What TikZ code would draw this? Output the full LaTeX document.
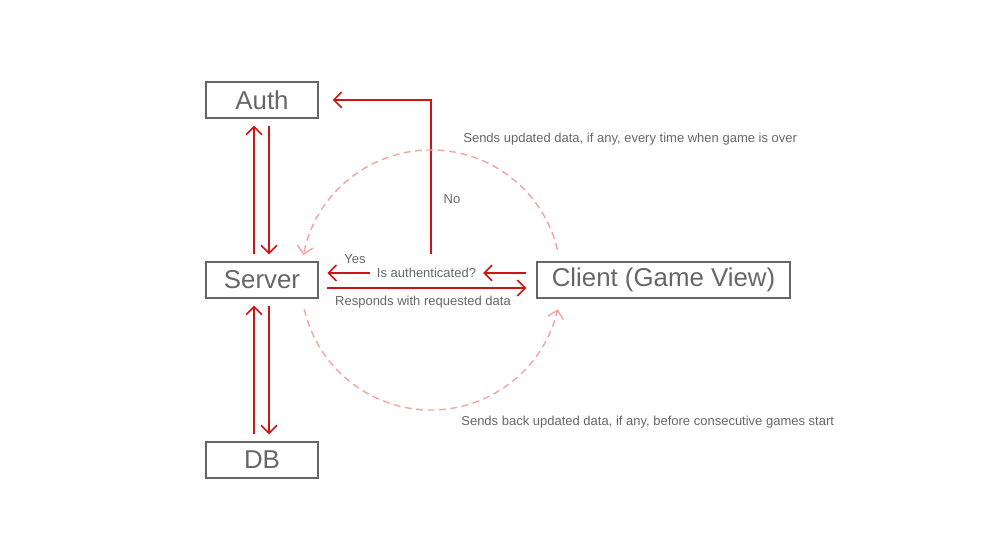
\documentclass[tikz,border=0pt]{standalone}
\usepackage{fontspec}
\setmainfont{Liberation Sans}
\usetikzlibrary{arrows.meta}
\definecolor{flowred}{HTML}{CC1414}
\definecolor{syncpink}{HTML}{F5A3A3}
\definecolor{txtgray}{HTML}{666666}

\begin{document}
\begin{tikzpicture}[x=0.02cm,y=0.02cm,>={Straight Barb[length=4.5pt,width=9pt]},
  box/.style={draw=txtgray,line width=0.8pt,text=txtgray,minimum height=0.72cm,minimum width=2.24cm,inner sep=0pt,font=\fontsize{14.7}{17}\selectfont},
  lbl/.style={text=txtgray,inner sep=0pt,font=\fontsize{7.4}{9}\selectfont},
  flow/.style={->,flowred,line width=0.9pt},
  gap/.style={shorten <=4pt,shorten >=4pt},
  sync/.style={->,syncpink,line width=0.8pt,dash pattern=on 3.9pt off 2.6pt}]
\useasboundingbox (0,0) rectangle (996,560);
\node[box] (auth) at (262,460) {Auth};
\node[box] (srv) at (262,280) {Server};
\node[box] (db) at (262,100) {DB};
\node[box,minimum width=5.06cm] (client) at (663.5,280) {Client (Game View)};
\node[lbl,inner sep=3.8pt] (chk) at (426.5,287) {Is authenticated?};
\node[lbl] (yes) at (355,301) {Yes};
\node[lbl] (no) at (452,361) {No};
\node[lbl] (resp) at (423,258) {Responds with requested data};
\node[lbl,anchor=west] (over) at (463,421) {Sends updated data, if any, every time when game is over};
\node[lbl,anchor=west] (start) at (461,138) {Sends back updated data, if any, before consecutive games start};
\coordinate (mid) at (431,280);
\draw[flow,gap] ([xshift=-0.16cm]srv.north) -- ([xshift=-0.16cm]auth.south);
\draw[flow,gap] ([xshift=0.14cm]auth.south) -- ([xshift=0.14cm]srv.north);
\draw[flow,gap] ([xshift=-0.16cm]db.north) -- ([xshift=-0.16cm]srv.south);
\draw[flow,gap] ([xshift=0.14cm]srv.south) -- ([xshift=0.14cm]db.north);
\draw[flow,shorten <=5.7pt] (chk -| client.west) -- (chk.east);
\draw[flow,shorten >=5pt] (chk.west) -- (chk -| srv.east);
\draw[flow,shorten <=4pt,shorten >=8pt] ([xshift=0.09cm]chk.north) |- (auth.east);
\draw[flow,shorten <=5pt,shorten >=5.7pt] ([yshift=-0.16cm]srv.east) -- ([yshift=-0.16cm]client.west);
\draw[sync] ([shift={(13.5:130)}]mid) arc[start angle=13.5,end angle=169,radius=130];
\draw[sync] ([shift={(193:130)}]mid) arc[start angle=193,end angle=347,radius=130];
\end{tikzpicture}
\end{document}
